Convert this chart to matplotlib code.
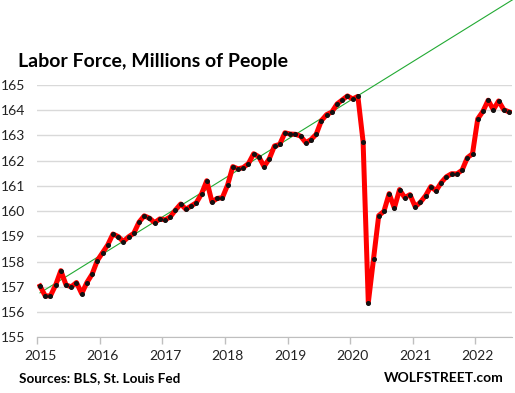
import numpy as np
import matplotlib
matplotlib.use("Agg")
import matplotlib.pyplot as plt

# Monthly labor force, millions, Jan 2015 .. Jul 2022
labor_force = [
    157.03, 156.64, 156.64, 157.07, 157.64, 157.07, 157.00, 157.17, 156.73, 157.17, 157.50, 158.04,
    158.35, 158.66, 159.09, 158.99, 158.79, 158.98, 159.12, 159.56, 159.81, 159.72, 159.54, 159.69,
    159.65, 159.77, 160.04, 160.28, 160.07, 160.20, 160.33, 160.68, 161.20, 160.36, 160.50, 160.53,
    161.03, 161.76, 161.67, 161.72, 161.88, 162.27, 162.15, 161.76, 162.07, 162.58, 162.64, 163.10,
    163.05, 163.04, 162.97, 162.71, 162.83, 163.04, 163.58, 163.82, 163.92, 164.24, 164.40, 164.56,
    164.44, 164.54, 162.75, 156.37, 158.10, 159.82, 159.99, 160.69, 160.12, 160.85, 160.53, 160.65,
    160.17, 160.35, 160.61, 160.97, 160.80, 161.13, 161.36, 161.48, 161.47, 161.62, 162.11, 162.27,
    163.65, 163.95, 164.39, 164.01, 164.36, 164.01, 163.93,
]
years = ["2015", "2016", "2017", "2018", "2019", "2020", "2021", "2022"]
yticks = [155, 156, 157, 158, 159, 160, 161, 162, 163, 164, 165]
# pre-pandemic trend: value at Jan 2015 and monthly slope
trend_start = 156.76
trend_slope = 0.128

plt.rcParams['font.family'] = ['Lato', 'DejaVu Sans']

fig = plt.figure(figsize=(5.15, 3.93), dpi=100)
ax = fig.add_axes([37.4/515, 1-337.3/393, (511.6-37.4)/515, (337.3-84.8)/393])

x = np.arange(len(labor_force))
ax.plot(x, labor_force, color='#ff0000', lw=3.6, solid_joinstyle='round', zorder=3)
ax.plot(x, labor_force, ls='none', marker='o', ms=2.6, color='#111111', zorder=4)

tx = np.array([0, 96])
ax.plot(tx, trend_start + trend_slope*tx, color='#22aa33', lw=0.8, zorder=2, clip_on=False)

ax.set_xlim(-0.5, 90.5)
ax.set_ylim(155, 165)
ax.set_yticks(yticks)
ax.set_yticklabels([str(v) for v in yticks], fontsize=10, color='#222222')
ax.yaxis.grid(True, color='#d9d9d9', lw=1)
ax.set_axisbelow(True)
ax.tick_params(axis='y', length=0, pad=8.5)

ax.set_xticks([-0.5 + 12*i for i in range(len(years))])
ax.set_xticklabels([])
ax.set_xticks([12*i for i in range(len(years))], minor=True)
ax.set_xticklabels(years, minor=True, fontsize=10, color='#222222')
ax.tick_params(axis='x', which='major', length=5, color='#bfbfbf', width=1)
ax.tick_params(axis='x', which='minor', length=0, pad=9)

for s in ['left', 'right', 'top']:
    ax.spines[s].set_visible(False)
ax.spines['bottom'].set_color('#bfbfbf')

fig.text(18/515, 1-62/393, "Labor Force, Millions of People", fontsize=14, fontweight='bold',
         va='center', ha='left')
fig.text(19/515, 1-378/393, "Sources: BLS, St. Louis Fed", fontsize=9.7, fontweight='bold',
         va='center', ha='left')
fig.text(504/515, 1-378/393, "WOLFSTREET.com", fontsize=10, fontweight='bold',
         va='center', ha='right')

fig.savefig("out.png", dpi=100)
